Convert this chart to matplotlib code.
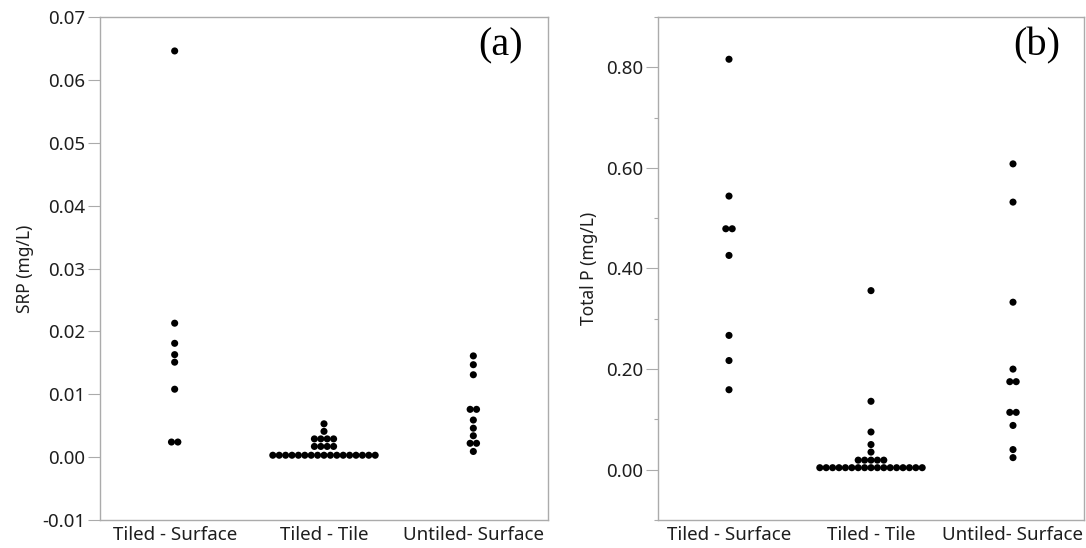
import matplotlib
matplotlib.use("Agg")
import matplotlib.pyplot as plt
import numpy as np
from collections import Counter

# ---- data ----
categories = ["Tiled - Surface", "Tiled - Tile", "Untiled- Surface"]

srp_tiled_surface = [0.0646, 0.0213, 0.0181, 0.0163, 0.0151, 0.0108, 0.0024, 0.0024]
srp_tiled_tile = [0.0053, 0.0041] + [0.0029] * 4 + [0.0017] * 4 + [0.0003] * 17
srp_untiled_surface = [0.0161, 0.0147, 0.0131, 0.0076, 0.0076, 0.0059, 0.0046,
                       0.0034, 0.0022, 0.0022, 0.0009]

tp_tiled_surface = [0.816, 0.544, 0.479, 0.479, 0.426, 0.267, 0.217, 0.159]
tp_tiled_tile = [0.356, 0.136, 0.075, 0.050, 0.035] + [0.019] * 5 + [0.004] * 17
tp_untiled_surface = [0.608, 0.532, 0.333, 0.200, 0.175, 0.175, 0.114, 0.114,
                      0.088, 0.040, 0.024]

srp_ticks = [-0.01, 0.00, 0.01, 0.02, 0.03, 0.04, 0.05, 0.06, 0.07]
tp_ticks = [0.00, 0.20, 0.40, 0.60, 0.80]
tp_minor = [-0.10, 0.10, 0.30, 0.50, 0.70, 0.90]

W, H = 1086, 548
fig = plt.figure(figsize=(W / 100, H / 100), dpi=100)

FONT = "Noto Sans"
SPINE = "#ababab"
TXT = "#1e1e1e"


def swarm(ax, groups, ax_px_w, spacing_px=6.4):
    xr = 3.0
    sp = spacing_px / ax_px_w * xr
    for i, vals in enumerate(groups):
        cnt = Counter(vals)
        xs, ys = [], []
        for v, k in cnt.items():
            for j in range(k):
                xs.append(i + (j - (k - 1) / 2) * sp)
                ys.append(v)
        ax.scatter(xs, ys, s=26, color="black", edgecolor="none", zorder=3)


def style(ax, ylabel):
    ax.set_xlim(-0.5, 2.5)
    ax.set_xticks(range(3))
    ax.set_xticklabels(categories, fontfamily=FONT, fontsize=13.5, color=TXT)
    ax.tick_params(axis="x", length=0, pad=4)
    ax.tick_params(axis="y", which="major", length=8.5, width=0.8, color=SPINE,
                   labelsize=13.5, labelcolor=TXT, pad=2)
    ax.tick_params(axis="y", which="minor", length=3, width=0.8, color=SPINE)
    for lab in ax.get_yticklabels():
        lab.set_fontfamily(FONT)
    for s in ax.spines.values():
        s.set_color(SPINE)
        s.set_linewidth(1.0)
    ax.set_ylabel(ylabel, fontfamily=FONT, fontsize=12.5, color=TXT, labelpad=6)


# left panel
axL = fig.add_axes([100 / W, 1 - 520 / H, 448 / W, 503 / H])
swarm(axL, [srp_tiled_surface, srp_tiled_tile, srp_untiled_surface], 448)
axL.set_ylim(-0.01, 0.07)
axL.set_yticks(srp_ticks)
axL.set_yticklabels([f"{t:.2f}" for t in srp_ticks])
style(axL, "SRP (mg/L)")
axL.text(0.945, 0.98, "(a)", transform=axL.transAxes, ha="right", va="top",
         fontfamily="Liberation Serif", fontsize=29, color="black")

# right panel
axR = fig.add_axes([658 / W, 1 - 520 / H, 426 / W, 503 / H])
swarm(axR, [tp_tiled_surface, tp_tiled_tile, tp_untiled_surface], 426)
axR.set_ylim(-0.10, 0.90)
axR.set_yticks(tp_ticks)
axR.set_yticklabels([f"{t:.2f}" for t in tp_ticks])
axR.set_yticks(tp_minor, minor=True)
style(axR, "Total P (mg/L)")
axR.text(0.945, 0.98, "(b)", transform=axR.transAxes, ha="right", va="top",
         fontfamily="Liberation Serif", fontsize=29, color="black")

fig.savefig("out.png", dpi=100)
